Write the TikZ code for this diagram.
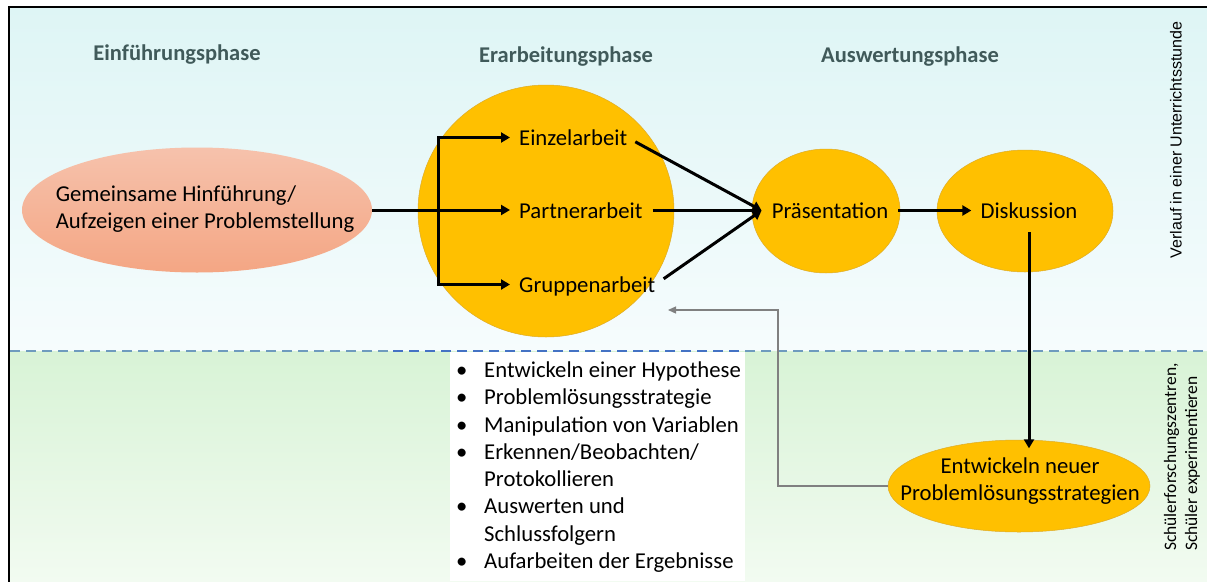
\documentclass[tikz,border=0pt]{standalone}
\usepackage{fontspec}
\setmainfont{Carlito}
\newfontfamily\arialf{Liberation Sans}
\usetikzlibrary{arrows.meta,shapes.geometric}
\definecolor{gold}{RGB}{255,192,0}
\definecolor{goldedge}{RGB}{222,172,40}
\definecolor{salmonA}{RGB}{246,194,172}
\definecolor{salmonB}{RGB}{244,166,132}
\definecolor{skyA}{RGB}{222,245,245}
\definecolor{skyB}{RGB}{246,252,253}
\definecolor{grnA}{RGB}{216,243,214}
\definecolor{grnB}{RGB}{242,251,241}
\definecolor{hdr}{RGB}{64,90,90}
\definecolor{dashA}{RGB}{110,155,190}
\definecolor{dashB}{RGB}{68,114,196}
\definecolor{fbgray}{RGB}{128,128,128}
\newcommand\bul{\makebox[30pt][l]{\hspace{2pt}•}}
\begin{document}
\begin{tikzpicture}[x=1pt,y=-1pt,
  every node/.style={font=\fontsize{22.7}{27.3}\selectfont, inner sep=0pt},
  phase/.style={font=\bfseries\fontsize{22.5}{27}\selectfont, text=hdr},
  blob/.style={ellipse, fill=gold, draw=goldedge, line width=0.5pt, inner sep=0pt},
  lbl/.style={inner sep=0pt, text height=15pt, text depth=0pt},
  arr/.style={line width=3pt, -{Triangle[length=9pt,width=10pt]}},
  fb/.style={line width=1.3pt, draw=fbgray, -{Triangle[length=8pt,width=7pt]}},
  dsh/.style={line width=2.5pt, dash pattern=on 10pt off 6pt}]
\useasboundingbox (0,0) rectangle (1207,581);
% backgrounds
\fill[white] (0,0) rectangle (1207,581);
\shade[top color=skyA, bottom color=skyB] (9,7) rectangle (1207,351);
\shade[top color=grnA, bottom color=grnB] (9,351) rectangle (1207,581);
\fill[white] (450,352) rectangle (745,581);
\draw[dsh, dashA] (10,351) -- (393,351);
\draw[dsh, dashB] (393,351) -- (745,351);
\draw[dsh, dashA] (745,351) -- (1207,351);
\draw[line width=2.5pt] (9,600) -- (9,7) -- (1220,7);

% headers
\node[phase] (h1) at (177,55) {Einführungsphase};
\node[phase] (h2) at (566,57) {Erarbeitungsphase};
\node[phase] (h3) at (910,57) {Auswertungsphase};

% shapes
\node[ellipse, top color=salmonA, bottom color=salmonB, minimum width=350pt, minimum height=125pt] (intro) at (197,210) {};
\node[align=left] (introtxt) at (205,209) {Gemeinsame Hinführung/\\Aufzeigen einer Problemstellung};
\node[blob, minimum width=256pt, minimum height=252pt] (erar) at (546,211) {};
\node[blob, minimum width=148pt, minimum height=124pt] (praes) at (826,211) {};
\node[blob, minimum width=176pt, minimum height=122pt] (disk) at (1025,211) {};
\node[blob, minimum width=262pt, minimum height=92pt] (neu) at (1019,486) {};

% labels
\node[lbl, anchor=west] (ein) at (519,137.5) {Einzelarbeit};
\node[lbl, anchor=west] (part) at (519,210.5) {Partnerarbeit};
\node[lbl, anchor=west] (grp) at (519,284.5) {Gruppenarbeit};
\node[lbl] (ptxt) at (830,210.5) {Präsentation};
\node[lbl] (dtxt) at (1029,210.5) {Diskussion};
\node[align=center] (neutxt) at (1020,481) {Entwickeln neuer\\Problemlösungsstrategien};

% connectors
\coordinate (br) at (438,210);
\draw[arr, shorten >=9pt] (intro.east) -- (intro.east -| part.west);
\draw[arr, shorten >=9pt] (br) |- (ein.west);
\draw[arr, shorten >=9pt] (br) |- (grp.west);
\coordinate (pin) at ([xshift=-10pt]ptxt.west);
\draw[arr, shorten <=9pt] (ein.east) -- (pin);
\draw[arr, shorten <=10pt] (part.east) -- (pin);
\draw[arr, shorten <=10pt] (grp.east) -- (pin);
\draw[arr, shorten <=10pt, shorten >=9pt] (ptxt.east) -- (dtxt.west);
\draw[arr, shorten <=14pt, shorten >=9pt] (dtxt.south) -- (dtxt.south |- neutxt.north);
\coordinate (fbc) at (778,310);
\coordinate (fbend) at (668,310);
\draw[fb] (neu.west) -| (fbc) -- (fbend);

% bullet list
\node[anchor=north west, align=left] (list) at (454,361.5) {\bul Entwickeln einer Hypothese\\\bul Problemlösungsstrategie\\\bul Manipulation von Variablen\\\bul Erkennen/Beobachten/\\\hspace*{30pt}Protokollieren\\\bul Auswerten und\\\hspace*{30pt}Schlussfolgern\\\bul Aufarbeiten der Ergebnisse};

% side texts
\node[rotate=90, font=\arialf\fontsize{16}{18}\selectfont] (verl) at (1176,140) {Verlauf in einer Unterrichtsstunde};
\node[rotate=90, align=left, font=\fontsize{17.5}{21}\selectfont] (sfz) at (1182,457) {Schülerforschungszentren,\\Schüler experimentieren};
\end{tikzpicture}
\end{document}
